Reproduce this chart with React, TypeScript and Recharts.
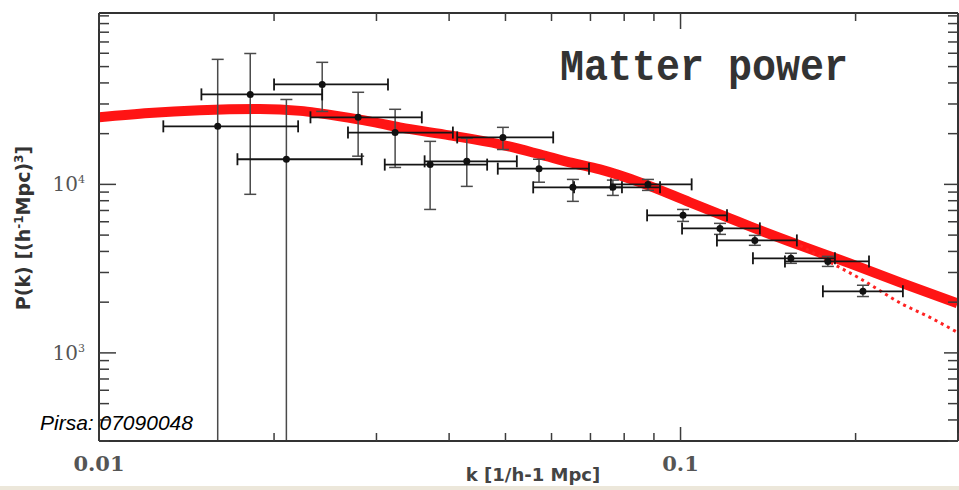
import React from 'react';
import { ComposedChart, XAxis, YAxis, Line, Scatter, ErrorBar } from 'recharts';

// band-power measurements: centre and extent of each bin
const kCentre = [0.016, 0.0182, 0.021, 0.0242, 0.0279, 0.0323, 0.0371, 0.0429, 0.0495, 0.0571, 0.0653, 0.0765, 0.0879, 0.101, 0.1169, 0.1342, 0.1548, 0.1792, 0.2059];
const pCentre = [22100, 34200, 14100, 39200, 25000, 20300, 13100, 13700, 19000, 12400, 9600, 9600, 10000, 6550, 5480, 4650, 3640, 3490, 2320];
const kLow = [0.0129, 0.015, 0.0173, 0.02, 0.0231, 0.0268, 0.031, 0.0363, 0.0413, 0.0485, 0.0558, 0.0656, 0.0759, 0.0876, 0.1006, 0.1155, 0.1332, 0.1512, 0.1757];
const kHigh = [0.022, 0.0242, 0.0283, 0.0314, 0.0359, 0.0406, 0.0465, 0.0523, 0.0604, 0.0696, 0.0793, 0.0922, 0.1045, 0.1202, 0.1369, 0.1585, 0.1843, 0.2109, 0.2412];
// the first and third bins run off the bottom of the axis, so stop them at its floor
const pLow = [300, 8730, 300, 27100, 14700, 12600, 7100, 9730, 16100, 10300, 7930, 8600, 9210, 6030, 5050, 4350, 3400, 3260, 2160];
const pHigh = [55200, 59800, 31900, 53000, 35200, 27900, 18000, 18800, 21800, 14100, 10700, 10600, 10700, 7100, 5870, 4980, 3900, 3740, 2520];

// model spectrum (thick) and its linear counterpart past the turnover (dotted)
const modelK = [0.01, 0.0122, 0.0149, 0.0189, 0.0222, 0.024, 0.0279, 0.0304, 0.0329, 0.0401, 0.0489, 0.0573, 0.0645, 0.0727, 0.0852, 0.1038, 0.1216, 0.1316, 0.1605, 0.1955, 0.2384, 0.2994];
const modelP = [25000, 26500, 27500, 28000, 27300, 26390, 24310, 23010, 21790, 19540, 17280, 15070, 13510, 12270, 10280, 7820, 6284, 5632, 4345, 3398, 2621, 1967];
const linearK = [0.1605, 0.185, 0.2034, 0.2412, 0.2685, 0.2994];
const linearP = [4345, 3306, 2768, 1940, 1624, 1323];

const xTicks = [0.01, 0.02, 0.03, 0.04, 0.05, 0.06, 0.07, 0.08, 0.09, 0.1, 0.2, 0.3];
const xLabels = [0.01, 0.1];
const yTicks = [300, 400, 500, 600, 700, 800, 900, 1000, 2000, 3000, 4000, 5000, 6000, 7000, 8000, 9000, 10000, 20000, 30000, 40000, 50000, 60000, 70000, 80000, 90000, 100000];
const yLabels = [1000, 10000];

const points = kCentre.map((k, i) => ({
  k,
  p: pCentre[i],
  kErr: [k - kLow[i], kHigh[i] - k],
  pErr: [pCentre[i] - pLow[i], pHigh[i] - pCentre[i]],
}));
const model = modelK.map((k, i) => ({ k, p: modelP[i] }));
const linear = linearK.map((k, i) => ({ k, p: linearP[i] }));

const FRAME = '#333';
const TICK = '#3c3c3c';
const LABEL_FONT = '"DejaVu Serif", serif';
const K_DOMAIN = [0.01, 0.3];
const P_DOMAIN = [300, 104000];

const BottomTick = ({ x, y, payload }: any) => {
  const major = xLabels.includes(payload.value);
  return (
    <g>
      <line x1={x} x2={x} y1={y} y2={y - (major ? 14 : 8)} stroke={TICK} strokeWidth={1.5} />
      {major && (
        <text x={x} y={y + 30} textAnchor="middle" fontFamily={LABEL_FONT} fontWeight="bold" fontSize={21} fill="#555">
          {String(payload.value)}
        </text>
      )}
    </g>
  );
};

const TopTick = ({ x, y, payload }: any) => {
  const major = xLabels.includes(payload.value);
  return <line x1={x} x2={x} y1={y} y2={y + (major ? 16 : 8)} stroke={TICK} strokeWidth={1.5} />;
};

const LeftTick = ({ x, y, payload }: any) => {
  const major = yLabels.includes(payload.value);
  return (
    <g>
      <line x1={x} x2={x + (major ? 17 : 10)} y1={y} y2={y} stroke={TICK} strokeWidth={1.5} />
      {major && (
        <text x={x - 14} y={y + 7} textAnchor="end" fontFamily={LABEL_FONT} fontSize={20} fill="#555">
          10
          <tspan dy={-8} fontSize={11}>
            {Math.round(Math.log10(payload.value))}
          </tspan>
        </text>
      )}
    </g>
  );
};

const RightTick = ({ x, y, payload }: any) => {
  const major = yLabels.includes(payload.value);
  return <line x1={x} x2={x - (major ? 14 : 10)} y1={y} y2={y} stroke={TICK} strokeWidth={1.5} />;
};

const dot = (props: any) => <circle cx={props.cx} cy={props.cy} r={3.5} fill="#111" />;

export default function App() {
  const axisLine = { stroke: FRAME, strokeWidth: 2 };
  return (
    <div style={{ position: 'absolute', left: 0, top: 0, width: 959, height: 490, background: '#fff' }}>
      <ComposedChart width={959} height={490} margin={{ top: 12, right: 0, bottom: 0, left: 0 }}>
        <XAxis
          xAxisId={0}
          type="number"
          dataKey="k"
          scale="log"
          domain={K_DOMAIN}
          allowDataOverflow
          ticks={xTicks}
          interval={0}
          tick={BottomTick}
          tickLine={false}
          tickSize={0}
          tickMargin={0}
          axisLine={axisLine}
          height={49}
        />
        <XAxis
          xAxisId="top"
          orientation="top"
          type="number"
          dataKey="k"
          scale="log"
          domain={K_DOMAIN}
          allowDataOverflow
          ticks={xTicks}
          interval={0}
          tick={TopTick}
          tickLine={false}
          tickSize={0}
          tickMargin={0}
          axisLine={axisLine}
          height={1}
        />
        <YAxis
          yAxisId={0}
          type="number"
          dataKey="p"
          scale="log"
          domain={P_DOMAIN}
          allowDataOverflow
          ticks={yTicks}
          interval={0}
          tick={LeftTick}
          tickLine={false}
          tickSize={0}
          tickMargin={0}
          axisLine={axisLine}
          width={99}
        />
        <YAxis
          yAxisId="right"
          orientation="right"
          type="number"
          dataKey="p"
          scale="log"
          domain={P_DOMAIN}
          allowDataOverflow
          ticks={yTicks}
          interval={0}
          tick={RightTick}
          tickLine={false}
          tickSize={0}
          tickMargin={0}
          axisLine={axisLine}
          width={1}
        />
        {/* unstroked copy of the model, only so the mirrored top/right axes get drawn */}
        <Line
          xAxisId="top"
          yAxisId="right"
          data={model}
          dataKey="p"
          stroke="none"
          dot={false}
          isAnimationActive={false}
        />
        <Line
          data={model}
          dataKey="p"
          type="monotone"
          stroke="#ff1414"
          strokeWidth={10}
          dot={false}
          isAnimationActive={false}
        />
        <Line
          data={linear}
          dataKey="p"
          type="monotone"
          stroke="#f22"
          strokeWidth={3}
          strokeDasharray="3 4"
          dot={false}
          isAnimationActive={false}
        />
        <Scatter data={points} dataKey="p" shape={dot} isAnimationActive={false}>
          <ErrorBar dataKey="pErr" direction="y" width={6} stroke="#4a4a4a" strokeWidth={1.5} />
          <ErrorBar dataKey="kErr" direction="x" width={6} stroke="#151515" strokeWidth={1.8} />
        </Scatter>
      </ComposedChart>
      <svg width={959} height={490} style={{ position: 'absolute', left: 0, top: 0, pointerEvents: 'none' }}>
        <text
          transform="translate(30,228) rotate(-90)"
          textAnchor="middle"
          fontFamily='"DejaVu Sans", sans-serif'
          fontWeight="bold"
          fontSize={19}
          fill="#333"
        >
          P(k) [(h
          <tspan dy={-7} fontSize={12}>-1</tspan>
          <tspan dy={7}>Mpc)</tspan>
          <tspan dy={-7} fontSize={12}>3</tspan>
          <tspan dy={7}>]</tspan>
        </text>
        <text x={533} y={481} textAnchor="middle" fontFamily='"DejaVu Sans", sans-serif' fontWeight="bold" fontSize={18} fill="#444">
          k [1/h-1 Mpc]
        </text>
        <text
          x={560}
          y={80}
          fontFamily='"Liberation Mono", monospace'
          fontWeight="bold"
          fontSize={44}
          textLength={288}
          lengthAdjust="spacingAndGlyphs"
          fill="#333"
        >
          Matter power
        </text>
        <text x={40} y={430} fontFamily='"Liberation Sans", Arial, sans-serif' fontStyle="italic" fontSize={21} fill="#000">
          Pirsa: 07090048
        </text>
        <rect x={0} y={486} width={959} height={4} fill="#ece7da" />
      </svg>
    </div>
  );
}
